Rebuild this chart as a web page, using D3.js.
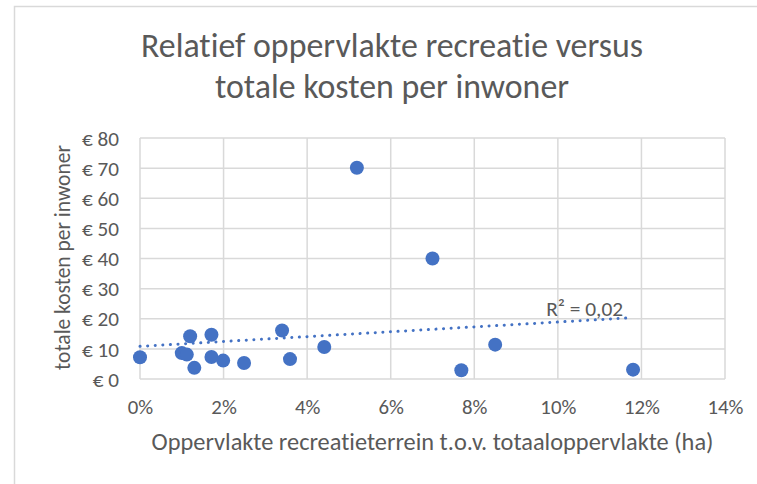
<!DOCTYPE html>
<html>
<head>
<meta charset="utf-8">
<script src="https://cdn.jsdelivr.net/npm/d3@7"></script>
<style>
  html, body { margin: 0; padding: 0; background: #fff; }
  svg { display: block; }
  text { font-family: Calibri, Carlito, Lato, "Open Sans", sans-serif; fill: #595959;
         font-variant-ligatures: none; }
</style>
</head>
<body>
<svg id="chart" width="757" height="484"></svg>
<script>
// Share of recreational land in total area, per municipality
const shareRecreation = [0.000, 0.010, 0.0112, 0.012, 0.013, 0.0171, 0.0171, 0.0199, 0.0249,
                         0.034, 0.0359, 0.0441, 0.0519, 0.070, 0.0769, 0.085, 0.118];
// Total costs per resident (euro)
const costPerResident = [7.2, 8.6, 8.1, 14.2, 3.7, 14.7, 7.3, 6.1, 5.3,
                         16.1, 6.6, 10.6, 70.1, 40.0, 2.9, 11.4, 3.1];

const xTicks = [0, 0.02, 0.04, 0.06, 0.08, 0.10, 0.12, 0.14];
const yTicks = [0, 10, 20, 30, 40, 50, 60, 70, 80];

const titleLines = ["Relatief oppervlakte recreatie versus", "totale kosten per inwoner"];
const xTitle = "Oppervlakte recreatieterrein t.o.v. totaaloppervlakte (ha)";
const yTitle = "totale kosten per inwoner";

const blue = "#4472C4";
const grid = "#d9d9d9";

const svg = d3.select("#chart");

// scale a text's font size so that it spans the given width
function fitWidth(sel, width) {
  sel.each(function () {
    const base = parseFloat(this.style.fontSize) || 16;
    const len = this.getComputedTextLength();
    if (len > 0) this.style.fontSize = (base * width / len).toFixed(2) + "px";
  });
  return sel;
}

// chart frame
svg.append("rect")
  .attr("x", 14.5).attr("y", 6.5)
  .attr("width", 800).attr("height", 520)
  .attr("fill", "#fff")
  .attr("stroke", grid).attr("stroke-width", 1.5);

const x = d3.scaleLinear().domain([0, 0.14]).range([140, 725]);
const y = d3.scaleLinear().domain([0, 80]).range([379, 138]);

// gridlines
svg.append("g").selectAll("line").data(yTicks).join("line")
  .attr("x1", x(0)).attr("x2", x(0.14))
  .attr("y1", d => y(d)).attr("y2", d => y(d))
  .attr("stroke", grid).attr("stroke-width", 1.5);
svg.append("g").selectAll("line").data(xTicks).join("line")
  .attr("x1", d => x(d)).attr("x2", d => x(d))
  .attr("y1", y(0)).attr("y2", y(80))
  .attr("stroke", grid).attr("stroke-width", 1.5);

// axes (labels only; lines come from the grid)
const yAxis = d3.axisLeft(y).tickValues(yTicks).tickSize(0).tickPadding(0)
  .tickFormat(d => "€ " + d);
const gy = svg.append("g").attr("transform", `translate(${x(0) - 21},0)`).call(yAxis);
gy.select(".domain").remove();
gy.attr("font-family", null);
const yLabels = gy.selectAll("text").attr("fill", "#595959").attr("dy", "0.34em")
  .style("font-size", "18px");
const yRef = yLabels.filter(d => d === 80);
fitWidth(yRef, 37);
yLabels.style("font-size", yRef.style("font-size"));

const xAxis = d3.axisBottom(x).tickValues(xTicks).tickSize(0).tickPadding(0)
  .tickFormat(d3.format(".0%"));
const gx = svg.append("g").attr("transform", `translate(0,${y(0)})`).call(xAxis);
gx.select(".domain").remove();
gx.attr("font-family", null);
const xLabels = gx.selectAll("text").attr("fill", "#595959")
  .attr("dy", null).attr("y", 35).style("font-size", "18px");
const xRef = xLabels.filter(d => d === 0.14);
fitWidth(xRef, 36);
xLabels.style("font-size", xRef.style("font-size"));

// least-squares trendline
const n = shareRecreation.length;
const mx = d3.mean(shareRecreation), my = d3.mean(costPerResident);
let sxy = 0, sxx = 0, syy = 0;
for (let i = 0; i < n; i++) {
  const dx = shareRecreation[i] - mx, dy = costPerResident[i] - my;
  sxy += dx * dy; sxx += dx * dx; syy += dy * dy;
}
const slope = sxy / sxx, intercept = my - slope * mx;
const r2 = (sxy * sxy) / (sxx * syy);
const [xMin, xMax] = d3.extent(shareRecreation);
const trend = [xMin, xMax].map(v => [v, intercept + slope * v]);

svg.append("path")
  .attr("d", d3.line().x(d => x(d[0])).y(d => y(d[1]))(trend))
  .attr("fill", "none")
  .attr("stroke", blue).attr("stroke-width", 3)
  .attr("stroke-linecap", "round")
  .attr("stroke-dasharray", "0.1 7.5");

// points
svg.append("g").selectAll("circle").data(d3.zip(shareRecreation, costPerResident)).join("circle")
  .attr("cx", d => x(d[0])).attr("cy", d => y(d[1]))
  .attr("r", 7).attr("fill", blue);

// R² label
const r2Label = svg.append("text")
  .attr("x", x(xMax) - 10).attr("y", y(trend[1][1]) - 2)
  .attr("text-anchor", "end")
  .style("font-size", "18px")
  .text("R² = " + d3.format(".2f")(r2).replace(".", ","));
fitWidth(r2Label, 77);

// titles
const titles = svg.append("g").selectAll("text").data(titleLines).join("text")
  .attr("x", 392).attr("y", (d, i) => 57 + i * 41)
  .attr("text-anchor", "middle")
  .style("font-size", "28px")
  .text(d => d);
const t0 = titles.filter((d, i) => i === 0);
fitWidth(t0, 502);
titles.style("font-size", t0.style("font-size"));

fitWidth(svg.append("text")
  .attr("x", x(0.07)).attr("y", 450)
  .attr("text-anchor", "middle")
  .style("font-size", "19px")
  .text(xTitle), 562);

fitWidth(svg.append("text")
  .attr("transform", `translate(70,${(y(0) + y(80)) / 2 - 1}) rotate(-90)`)
  .attr("text-anchor", "middle")
  .style("font-size", "19px")
  .text(yTitle), 225);
</script>
</body>
</html>
